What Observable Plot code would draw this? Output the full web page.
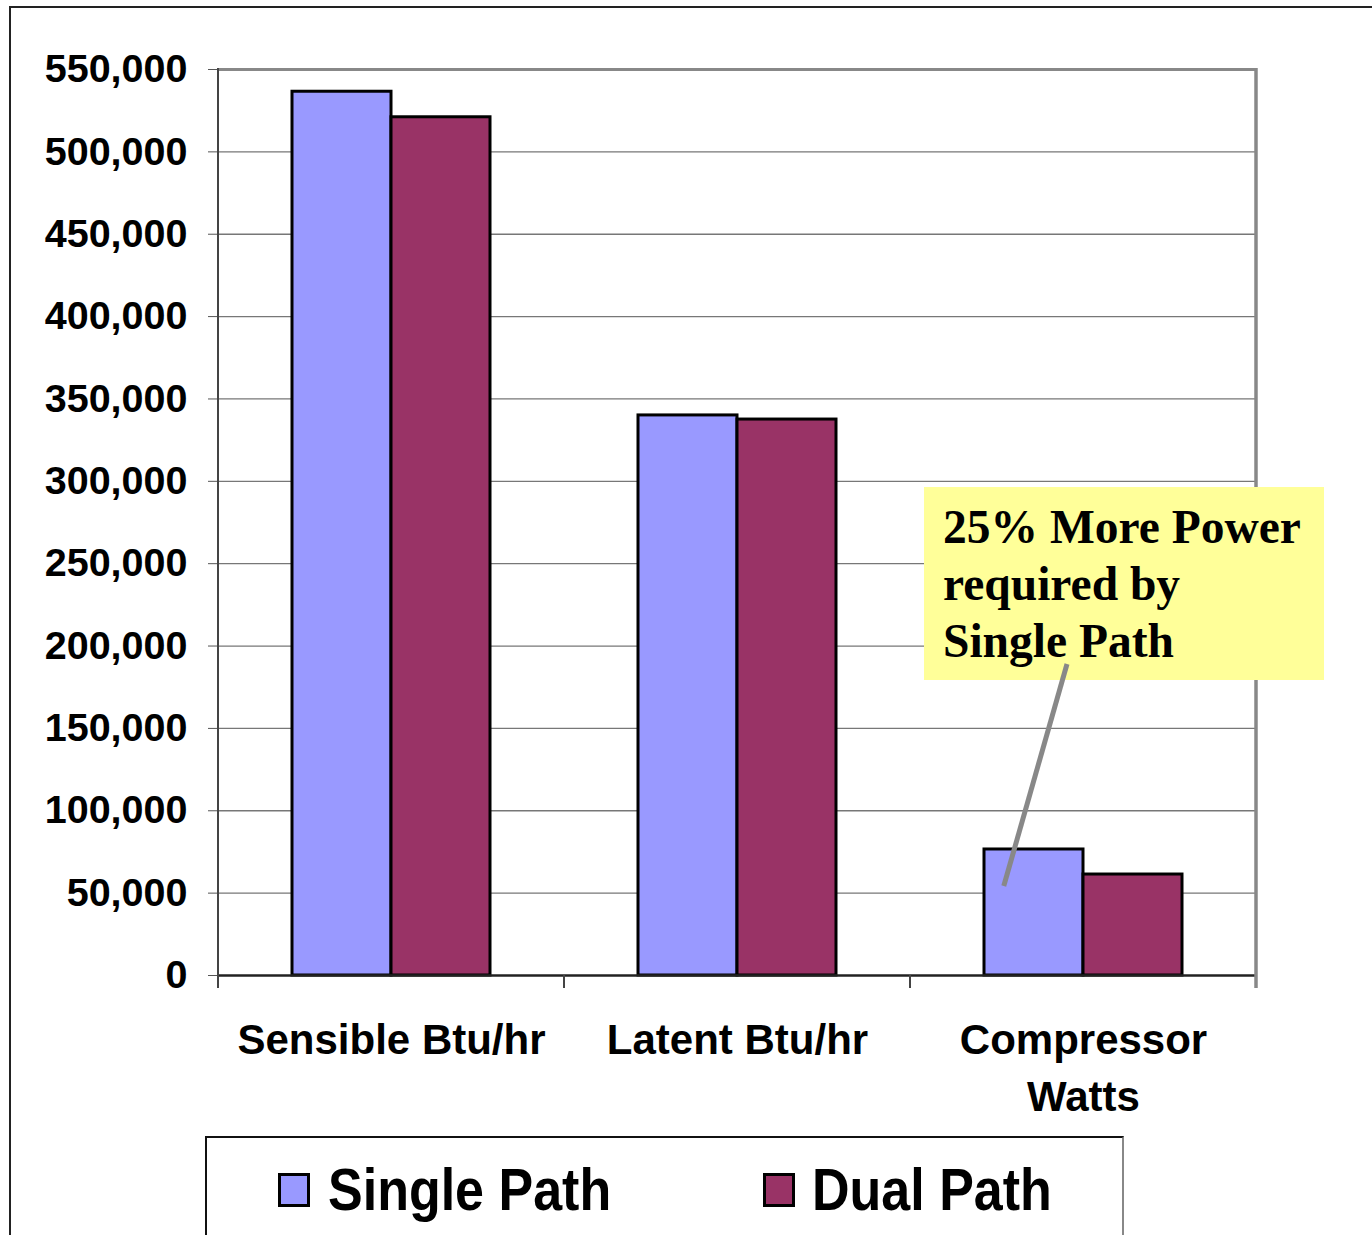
<!DOCTYPE html>
<html><head><meta charset="utf-8">
<script src="https://cdn.jsdelivr.net/npm/d3@7"></script>
<script src="https://cdn.jsdelivr.net/npm/@observablehq/plot@0.6"></script>
<style>
body{margin:0;background:#fff;}
#wrap{position:relative;width:1372px;height:1235px;overflow:hidden;font-family:"Liberation Sans",Arial,sans-serif;background:#fff;}
#frame{position:absolute;left:9px;top:6px;width:1400px;height:1300px;border-left:2px solid #222;border-top:2px solid #222;}
#chart{position:absolute;left:0;top:0;}
#note{position:absolute;left:924px;top:487px;width:400px;height:193px;background:#FFFF99;box-sizing:border-box;padding:12px 0 0 19px;font:bold 47.5px/57px "Liberation Serif","Times New Roman",serif;color:#000;white-space:nowrap;}
#overlay{position:absolute;left:0;top:0;pointer-events:none;}
#legend{position:absolute;left:205px;top:1136px;width:919px;height:200px;box-sizing:border-box;border-top:2px solid #111;border-left:2px solid #111;border-right:2px solid #888;}
.sw{position:absolute;width:32px;height:34px;box-sizing:border-box;border:3px solid #000;}
.lt{position:absolute;font-weight:bold;font-size:52px;line-height:60px;transform:scaleY(1.15);transform-origin:left center;color:#000;white-space:nowrap;}
</style></head><body>
<div id="wrap"><div id="frame"></div><div id="chart"></div><div id="note"></div><svg id="overlay" width="1372" height="1235"></svg><div id="legend"></div></div>
<script>
const categories = ["Sensible Btu/hr", "Latent Btu/hr", "Compressor Watts"];
const categoryLabels = ["Sensible Btu/hr", "Latent Btu/hr", "Compressor\nWatts"];
const seriesNames = ["Single Path", "Dual Path"];
const singlePath = [536500, 340000, 76500];
const dualPath = [521000, 337500, 61300];
const seriesColors = ["#9999FF", "#993366"];
const yTicks = [0, 50000, 100000, 150000, 200000, 250000, 300000, 350000, 400000, 450000, 500000, 550000];
const noteLines = ["25% More Power", "required by", "Single Path"];
const noteTargetValue = 54000;

const data = categories.flatMap((c, i) => [
  {category: c, series: seriesNames[0], value: singlePath[i]},
  {category: c, series: seriesNames[1], value: dualPath[i]}
]);

const yMax = yTicks[yTicks.length - 1];
const plot = Plot.plot({
  width: 1372, height: 1130,
  marginTop: 69, marginLeft: 217, marginRight: 115, marginBottom: 155,
  style: {fontFamily: "Liberation Sans, Arial, sans-serif", background: "transparent", overflow: "visible"},
  fx: {domain: categories, padding: 0, label: null},
  x: {domain: seriesNames, paddingInner: 0, paddingOuter: 0.742, axis: null},
  y: {domain: [0, yMax], label: null},
  color: {domain: seriesNames, range: seriesColors},
  marks: [
    Plot.ruleY(yTicks.filter(d => d > 0 && d < yMax), {stroke: "#777", strokeWidth: 1.3}),
    Plot.ruleY([yMax], {stroke: "#888", strokeWidth: 3}),
    Plot.barY(data, {fx: "category", x: "series", y: "value", fill: "series", stroke: "#000", strokeWidth: 3}),
    Plot.ruleY([0], {stroke: "#222", strokeWidth: 2.5}),
    Plot.axisY({ticks: yTicks, tickSize: 10, tickPadding: 21, tickFormat: d3.format(","), fontSize: 39.5, fontWeight: "bold", stroke: "#555", fill: "#000", label: null}),
    Plot.axisFx({anchor: "bottom", tickSize: 0, tickPadding: 38, fontSize: 42, fontWeight: "bold", fill: "#000", lineHeight: 1.36, lineAnchor: "top", label: null,
      tickFormat: d => categoryLabels[categories.indexOf(d)]})
  ]
});
document.getElementById("chart").appendChild(plot);

// category boundary ticks and plot-area side lines, from the scales
const fxs = plot.scale("fx"), ys = plot.scale("y");
const y0 = ys.apply(0), yTop = ys.apply(yMax);
const svg = d3.select(plot);
const edges = categories.map(c => fxs.apply(c)).concat([fxs.apply(categories[categories.length - 1]) + fxs.bandwidth]);
edges.forEach((x, i) => {
  const last = i === edges.length - 1;
  svg.append("line")
    .attr("x1", x).attr("x2", x)
    .attr("y1", (i === 0 || last) ? yTop - 1 : y0)
    .attr("y2", y0 + 13)
    .attr("stroke", last ? "#888" : "#444")
    .attr("stroke-width", last ? 3.5 : 2);
});

// annotation
const note = d3.select("#note");
noteLines.forEach(t => note.append("div").text(t));
const tipX = fxs.apply(categories[2]) + fxs.bandwidth * 0.271;
const tipY = ys.apply(noteTargetValue);
d3.select("#overlay").append("line")
  .attr("x1", 1067).attr("y1", 664).attr("x2", tipX).attr("y2", tipY)
  .attr("stroke", "#888").attr("stroke-width", 5);

// legend
const legend = d3.select("#legend");
const legendPos = [{sw: 71, tx: 121}, {sw: 556, tx: 605}];
seriesNames.forEach((s, i) => {
  legend.append("div").attr("class", "sw")
    .style("left", legendPos[i].sw + "px").style("top", "35px").style("background", seriesColors[i]);
  legend.append("div").attr("class", "lt")
    .style("left", legendPos[i].tx + "px").style("top", "21px").text(s);
});
</script>
</body></html>
